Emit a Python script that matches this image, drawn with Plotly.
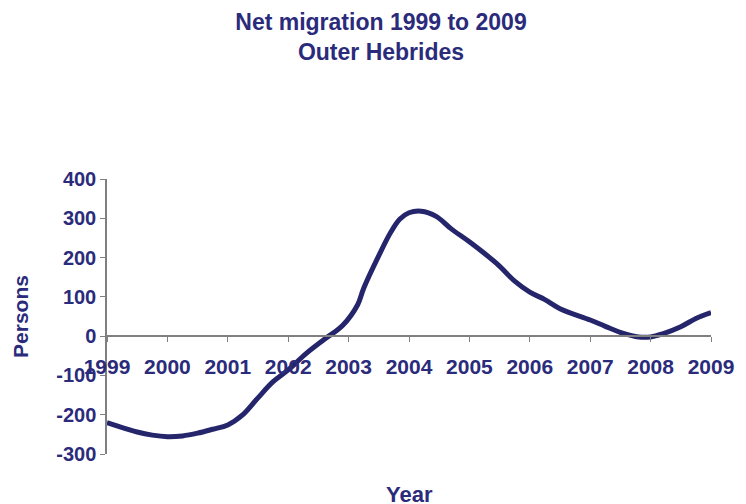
import plotly.graph_objects as go

NAVY = '#2B2B7B'
LINE = '#25256C'
GRID = '#808080'
FONT = 'Liberation Sans, Arial, sans-serif'

# Net migration (fractional years)
years = [1999.0, 1999.5, 1999.75, 2000.0, 2000.25, 2000.5, 2000.75, 2001.0,
         2001.25, 2001.5, 2001.75, 2002.0, 2002.3, 2002.6, 2002.9, 2003.15,
         2003.25, 2003.5, 2003.7, 2003.85, 2004.0, 2004.2, 2004.45, 2004.7,
         2005.0, 2005.45, 2005.75, 2006.0, 2006.25, 2006.5, 2007.0, 2007.25,
         2007.55, 2007.8, 2008.0, 2008.2, 2008.5, 2008.75, 2009.0]
persons = [-220, -244, -252, -256, -254, -247, -237, -226,
           -200, -157, -116, -86, -44, -8, 27, 80,
           122, 205, 265, 298, 314, 318, 305, 273,
           240, 185, 140, 112, 93, 70, 41, 25,
           7, -2, -2, 6, 24, 45, 60]

year_ticks = list(range(1999, 2010))
persons_ticks = list(range(-300, 401, 100))

fig = go.Figure()
fig.add_trace(go.Scatter(
    x=years, y=persons,
    mode='lines',
    line=dict(color=LINE, width=5, shape='spline', smoothing=1),
    showlegend=False,
    hoverinfo='skip',
))

# page body adds 8px, so margins are 8px smaller than the target positions
fig.update_layout(
    width=746, height=504,
    margin=dict(l=99, r=43, t=171, b=58),
    paper_bgcolor='white',
    plot_bgcolor='white',
    font=dict(family=FONT, color=NAVY),
    title=dict(
        text='Net migration 1999 to 2009<br>Outer Hebrides',
        x=0.5, xanchor='center', y=1 - 22 / 504, yanchor='middle',
        font=dict(size=23, weight='bold', color=NAVY),
    ),
    xaxis=dict(
        range=[1999, 2009],
        tickvals=year_ticks,
        ticktext=[str(y) for y in year_ticks],
        anchor='free', position=300 / 700,
        showline=True, linecolor=GRID, linewidth=1.5,
        ticks='outside', ticklen=5, tickcolor=GRID,
        tickfont=dict(size=21, weight='bold', color=NAVY),
        ticklabelstandoff=7,
        showgrid=False, zeroline=False, automargin=False,
    ),
    yaxis=dict(
        range=[-300, 400],
        tickvals=persons_ticks,
        ticktext=[str(v) for v in persons_ticks],
        showline=True, linecolor=GRID, linewidth=1.5,
        ticks='outside', ticklen=5, tickcolor=GRID,
        tickfont=dict(size=20, weight='bold', color=NAVY),
        showgrid=False, zeroline=False, automargin=False,
        title=dict(text='Persons', standoff=22,
                   font=dict(size=21, weight='bold', color=NAVY)),
    ),
    annotations=[dict(
        text='Year', xref='paper', yref='paper',
        x=0.5, y=-40 / 275, yanchor='middle', showarrow=False,
        font=dict(size=22, weight='bold', color=NAVY),
    )],
)

fig.write_html('out.html')
